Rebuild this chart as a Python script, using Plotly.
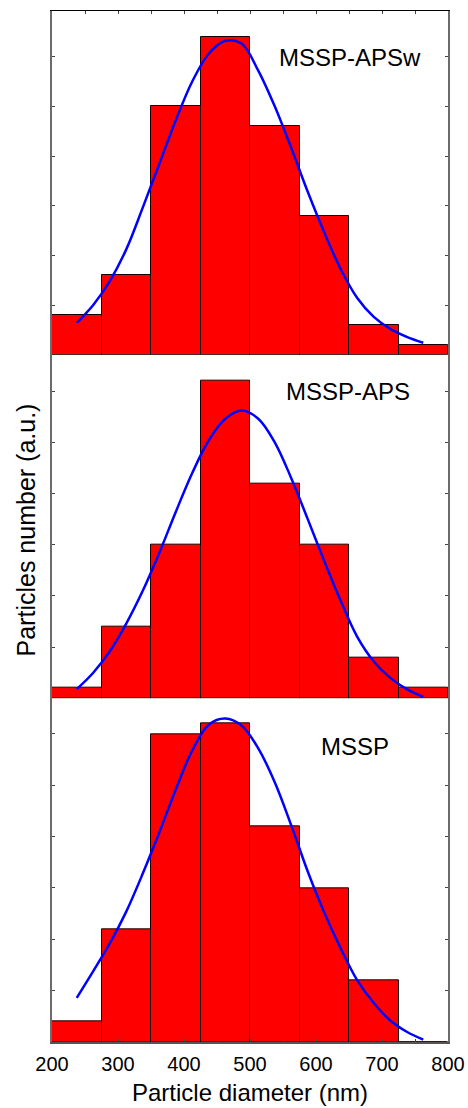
import plotly.graph_objects as go
from plotly.subplots import make_subplots

# ---- data ----
bin_centers = [237.5, 312.5, 387.5, 462.5, 537.5, 612.5, 687.5, 762.5]
bin_width = 75

counts_apsw = [4, 8, 25, 32, 23, 14, 3, 1]
counts_aps = [1, 7, 15, 31, 21, 15, 4, 1]
counts_mssp = [2, 11, 30, 31, 21, 15, 6, 0]

fit_x = [237.5, 262.5, 287.5, 312.5, 337.5, 362.5, 387.5, 412.5, 437.5, 462.5, 487.5,
         512.5, 537.5, 562.5, 587.5, 612.5, 637.5, 662.5, 687.5, 712.5, 737.5, 762.5]
fit_y_apsw = [3.2, 5.0, 7.4, 10.6, 14.8, 19.2, 23.6, 27.5, 30.3, 31.6, 31.3,
              28.6, 25.0, 20.8, 16.4, 12.3, 8.6, 5.7, 3.8, 2.6, 1.8, 1.2]
fit_y_aps = [0.9, 2.5, 4.6, 7.3, 10.5, 14.2, 18.2, 22.0, 25.2, 27.3, 28.1,
             27.3, 25.0, 21.5, 17.5, 13.4, 9.5, 6.0, 3.6, 2.0, 0.9, 0.15]
fit_y_mssp = [4.3, 6.9, 9.6, 12.7, 16.4, 20.4, 24.6, 28.4, 30.9, 31.5, 30.8,
              28.6, 25.3, 21.1, 16.6, 12.6, 9.1, 6.0, 3.8, 2.1, 1.0, 0.23]

labels = ["MSSP-APSw", "MSSP-APS", "MSSP"]
y_max = [34.6, 33.56, 33.47]
label_pos = [(652, 29.9), (648, 29.95), (659, 28.8)]

x_ticks = [200, 300, 400, 500, 600, 700, 800]

FONT = "Liberation Sans, Arial, sans-serif"

fig = make_subplots(rows=3, cols=1, shared_xaxes=True, vertical_spacing=0)

panels = [
    (counts_apsw, fit_y_apsw),
    (counts_aps, fit_y_aps),
    (counts_mssp, fit_y_mssp),
]

for i, (cnt, fy) in enumerate(panels, start=1):
    fig.add_trace(go.Bar(x=bin_centers, y=cnt, width=[bin_width] * len(bin_centers),
                         marker=dict(color="#FF0000", line=dict(color="#1a0000", width=1)),
                         showlegend=False), row=i, col=1)
    fig.add_trace(go.Scatter(x=fit_x, y=fy, mode="lines",
                             line=dict(color="#0000FF", width=2.5, shape="spline", smoothing=1.0),
                             showlegend=False), row=i, col=1)
    fig.update_yaxes(range=[0, y_max[i - 1]], dtick=5, tick0=0, ticks="inside", ticklen=3,
                     tickcolor="#444", tickwidth=1, showticklabels=False,
                     showline=True, linecolor="#6b6b6b", linewidth=2, mirror="ticks",
                     showgrid=False, zeroline=False, automargin=False, row=i, col=1)
    lx, ly = label_pos[i - 1]
    fig.add_annotation(x=lx, y=ly, text=labels[i - 1], showarrow=False,
                       font=dict(family=FONT, size=24, color="black"),
                       xref=f"x{i}" if i > 1 else "x", yref=f"y{i}" if i > 1 else "y")

for i in (1, 2, 3):
    fig.update_xaxes(range=[200, 800], showgrid=False, zeroline=False, automargin=False,
                     row=i, col=1)

# top border with ticks
fig.update_xaxes(side="top", showline=True, linecolor="black", linewidth=1,
                 ticks="inside", dtick=50, ticklen=3, tickcolor="#444",
                 showticklabels=False, row=1, col=1)
fig.update_xaxes(showline=False, ticks="", showticklabels=False, row=2, col=1)
fig.update_xaxes(showline=True, linecolor="#555", linewidth=2, ticks="inside",
                 tickvals=x_ticks, ticktext=[str(v) for v in x_ticks], ticklen=3,
                 tickcolor="#444", showticklabels=True, ticklabelstandoff=3,
                 minor=dict(ticks="inside", dtick=50, ticklen=3, tickcolor="#444"),
                 tickfont=dict(family=FONT, size=20, color="black"), row=3, col=1)

fig.add_annotation(x=0.5, y=-0.049, xref="paper", yref="paper", yanchor="middle",
                   text="Particle diameter (nm)", showarrow=False,
                   font=dict(family=FONT, size=24, color="black"))
fig.add_annotation(x=-0.066, y=0.497, xref="paper", yref="paper", textangle=-90,
                   xanchor="center", yanchor="middle",
                   text="Particles number (a.u.)", showarrow=False,
                   font=dict(family=FONT, size=25, color="black"))

fig.update_layout(width=468, height=1108, margin=dict(l=52, r=20, t=11, b=66, autoexpand=False),
                  paper_bgcolor="white", plot_bgcolor="white", bargap=0,
                  font=dict(family=FONT, color="black"))

fig.write_html("out.html")
